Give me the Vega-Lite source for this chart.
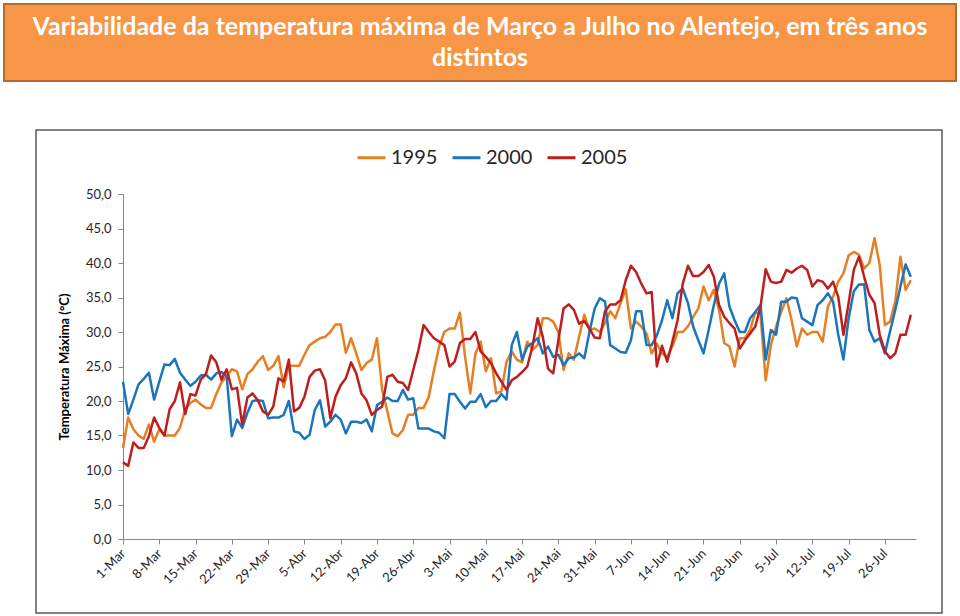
{
  "$schema": "https://vega.github.io/schema/vega-lite/v6.json",
  "padding": {"left": 3, "top": 3, "right": 0, "bottom": 0},
  "spacing": 47,
  "config": {
    "font": "Lato",
    "view": {"stroke": null},
    "concat": {"spacing": 0}
  },
  "vconcat": [
    {
      "width": 952,
      "height": 77,
      "view": {"fill": "#F79646", "stroke": "#B5692E", "strokeWidth": 2},
      "data": {"values": [{"title": "Variabilidade da temperatura máxima de Março a Julho no Alentejo, em três anos\ndistintos"}]},
      "mark": {"type": "text", "font": "Lato", "fontSize": 25, "fontWeight": "bold", "color": "white", "lineBreak": "\n", "lineHeight": 31, "align": "center", "baseline": "middle", "dy": -16},
      "encoding": {"text": {"field": "title", "type": "nominal"}}
    },
    {
      "spacing": 0,
      "hconcat": [
        {
          "width": 31,
          "height": 483,
          "data": {"values": []},
          "mark": "point",
          "view": {"stroke": null}
        },
        {
          "width": 906,
          "height": 483,
          "view": {"stroke": "#595959", "strokeWidth": 1.5, "fill": "white"},
          "data": {"values": [
{"date":"2000-03-01","1995":13.2,"2000":22.8,"2005":11.1},
{"date":"2000-03-02","1995":17.6,"2000":18.1,"2005":10.6},
{"date":"2000-03-03","1995":15.9,"2000":20.2,"2005":14.0},
{"date":"2000-03-04","1995":15.0,"2000":22.4,"2005":13.2},
{"date":"2000-03-05","1995":14.5,"2000":23.2,"2005":13.2},
{"date":"2000-03-06","1995":16.6,"2000":24.1,"2005":14.9},
{"date":"2000-03-07","1995":14.1,"2000":20.2,"2005":17.6},
{"date":"2000-03-08","1995":15.9,"2000":22.8,"2005":16.1},
{"date":"2000-03-09","1995":15.0,"2000":25.3,"2005":15.0},
{"date":"2000-03-10","1995":15.0,"2000":25.2,"2005":18.8},
{"date":"2000-03-11","1995":15.0,"2000":26.1,"2005":20.0},
{"date":"2000-03-12","1995":16.1,"2000":24.1,"2005":22.7},
{"date":"2000-03-13","1995":18.8,"2000":23.1,"2005":18.1},
{"date":"2000-03-14","1995":19.7,"2000":22.2,"2005":21.0},
{"date":"2000-03-15","1995":20.2,"2000":22.8,"2005":20.8},
{"date":"2000-03-16","1995":19.5,"2000":23.7,"2005":23.1},
{"date":"2000-03-17","1995":19.0,"2000":23.8,"2005":23.9},
{"date":"2000-03-18","1995":19.0,"2000":23.1,"2005":26.6},
{"date":"2000-03-19","1995":21.0,"2000":24.0,"2005":25.6},
{"date":"2000-03-20","1995":22.7,"2000":24.2,"2005":23.1},
{"date":"2000-03-21","1995":23.6,"2000":23.6,"2005":24.6},
{"date":"2000-03-22","1995":24.6,"2000":14.9,"2005":21.7},
{"date":"2000-03-23","1995":24.3,"2000":17.3,"2005":21.9},
{"date":"2000-03-24","1995":21.7,"2000":16.1,"2005":16.6},
{"date":"2000-03-25","1995":23.9,"2000":18.3,"2005":20.5},
{"date":"2000-03-26","1995":24.6,"2000":20.0,"2005":21.1},
{"date":"2000-03-27","1995":25.7,"2000":20.1,"2005":20.1},
{"date":"2000-03-28","1995":26.5,"2000":20.0,"2005":18.5},
{"date":"2000-03-29","1995":24.5,"2000":17.5,"2005":18.0},
{"date":"2000-03-30","1995":25.1,"2000":17.6,"2005":19.2},
{"date":"2000-03-31","1995":26.5,"2000":17.6,"2005":23.3},
{"date":"2000-04-01","1995":22.0,"2000":18.0,"2005":22.8},
{"date":"2000-04-02","1995":25.1,"2000":20.0,"2005":26.0},
{"date":"2000-04-03","1995":25.1,"2000":15.6,"2005":18.5},
{"date":"2000-04-04","1995":25.1,"2000":15.4,"2005":19.0},
{"date":"2000-04-05","1995":26.7,"2000":14.5,"2005":20.6},
{"date":"2000-04-06","1995":28.1,"2000":15.1,"2005":23.5},
{"date":"2000-04-07","1995":28.6,"2000":18.7,"2005":24.4},
{"date":"2000-04-08","1995":29.1,"2000":20.1,"2005":24.6},
{"date":"2000-04-09","1995":29.3,"2000":16.3,"2005":23.0},
{"date":"2000-04-10","1995":30.0,"2000":17.0,"2005":17.5},
{"date":"2000-04-11","1995":31.1,"2000":18.0,"2005":20.6},
{"date":"2000-04-12","1995":31.1,"2000":17.3,"2005":22.3},
{"date":"2000-04-13","1995":27.0,"2000":15.3,"2005":23.3},
{"date":"2000-04-14","1995":29.1,"2000":17.0,"2005":25.6},
{"date":"2000-04-15","1995":26.9,"2000":17.0,"2005":24.0},
{"date":"2000-04-16","1995":24.5,"2000":16.8,"2005":21.1},
{"date":"2000-04-17","1995":25.5,"2000":17.3,"2005":20.1},
{"date":"2000-04-18","1995":26.0,"2000":15.6,"2005":18.0},
{"date":"2000-04-19","1995":29.1,"2000":19.4,"2005":18.7},
{"date":"2000-04-20","1995":21.6,"2000":19.9,"2005":19.2},
{"date":"2000-04-21","1995":18.5,"2000":20.5,"2005":23.5},
{"date":"2000-04-22","1995":15.3,"2000":20.0,"2005":23.8},
{"date":"2000-04-23","1995":14.9,"2000":20.0,"2005":22.8},
{"date":"2000-04-24","1995":15.8,"2000":21.6,"2005":22.6},
{"date":"2000-04-25","1995":18.0,"2000":20.2,"2005":21.6},
{"date":"2000-04-26","1995":18.0,"2000":20.4,"2005":24.5},
{"date":"2000-04-27","1995":19.0,"2000":16.0,"2005":27.4},
{"date":"2000-04-28","1995":19.0,"2000":16.0,"2005":31.0},
{"date":"2000-04-29","1995":20.6,"2000":16.0,"2005":30.0},
{"date":"2000-04-30","1995":24.5,"2000":15.6,"2005":29.1},
{"date":"2000-05-01","1995":27.9,"2000":15.4,"2005":28.6},
{"date":"2000-05-02","1995":30.0,"2000":14.6,"2005":28.1},
{"date":"2000-05-03","1995":30.5,"2000":21.0,"2005":25.0},
{"date":"2000-05-04","1995":30.5,"2000":21.0,"2005":25.7},
{"date":"2000-05-05","1995":32.8,"2000":19.9,"2005":28.4},
{"date":"2000-05-06","1995":26.4,"2000":18.9,"2005":29.0},
{"date":"2000-05-07","1995":21.1,"2000":19.9,"2005":29.0},
{"date":"2000-05-08","1995":26.9,"2000":19.9,"2005":30.0},
{"date":"2000-05-09","1995":28.6,"2000":21.0,"2005":27.2},
{"date":"2000-05-10","1995":24.3,"2000":19.1,"2005":26.4},
{"date":"2000-05-11","1995":26.2,"2000":20.0,"2005":25.5},
{"date":"2000-05-12","1995":21.1,"2000":20.0,"2005":24.0},
{"date":"2000-05-13","1995":21.4,"2000":21.0,"2005":22.8},
{"date":"2000-05-14","1995":25.7,"2000":20.2,"2005":21.6},
{"date":"2000-05-15","1995":27.2,"2000":28.1,"2005":23.0},
{"date":"2000-05-16","1995":26.0,"2000":30.0,"2005":23.5},
{"date":"2000-05-17","1995":25.6,"2000":26.0,"2005":24.2},
{"date":"2000-05-18","1995":28.6,"2000":27.9,"2005":25.0},
{"date":"2000-05-19","1995":27.4,"2000":28.4,"2005":27.9},
{"date":"2000-05-20","1995":28.1,"2000":29.1,"2005":32.0},
{"date":"2000-05-21","1995":32.0,"2000":26.9,"2005":29.3},
{"date":"2000-05-22","1995":32.0,"2000":27.9,"2005":24.7},
{"date":"2000-05-23","1995":31.5,"2000":26.4,"2005":24.0},
{"date":"2000-05-24","1995":30.0,"2000":26.7,"2005":28.8},
{"date":"2000-05-25","1995":24.5,"2000":25.2,"2005":33.4},
{"date":"2000-05-26","1995":26.9,"2000":26.2,"2005":34.0},
{"date":"2000-05-27","1995":26.0,"2000":26.3,"2005":33.2},
{"date":"2000-05-28","1995":29.3,"2000":26.9,"2005":31.2},
{"date":"2000-05-29","1995":32.5,"2000":26.2,"2005":31.6},
{"date":"2000-05-30","1995":30.3,"2000":30.0,"2005":30.5},
{"date":"2000-05-31","1995":30.5,"2000":33.4,"2005":29.2},
{"date":"2000-06-01","1995":30.0,"2000":34.9,"2005":29.1},
{"date":"2000-06-02","1995":31.3,"2000":34.4,"2005":33.0},
{"date":"2000-06-03","1995":33.0,"2000":28.1,"2005":34.0},
{"date":"2000-06-04","1995":32.0,"2000":27.6,"2005":34.0},
{"date":"2000-06-05","1995":34.2,"2000":27.1,"2005":34.6},
{"date":"2000-06-06","1995":36.2,"2000":27.0,"2005":37.5},
{"date":"2000-06-07","1995":30.5,"2000":28.8,"2005":39.6},
{"date":"2000-06-08","1995":31.5,"2000":33.0,"2005":38.7},
{"date":"2000-06-09","1995":30.8,"2000":33.0,"2005":37.0},
{"date":"2000-06-10","1995":29.8,"2000":28.1,"2005":35.6},
{"date":"2000-06-11","1995":26.9,"2000":28.1,"2005":35.8},
{"date":"2000-06-12","1995":28.3,"2000":29.5,"2005":25.0},
{"date":"2000-06-13","1995":26.9,"2000":31.7,"2005":28.0},
{"date":"2000-06-14","1995":26.4,"2000":34.6,"2005":25.7},
{"date":"2000-06-15","1995":27.9,"2000":32.0,"2005":28.6},
{"date":"2000-06-16","1995":30.0,"2000":35.6,"2005":31.7},
{"date":"2000-06-17","1995":30.0,"2000":36.3,"2005":37.0},
{"date":"2000-06-18","1995":30.8,"2000":34.2,"2005":39.6},
{"date":"2000-06-19","1995":32.2,"2000":30.8,"2005":38.1},
{"date":"2000-06-20","1995":33.4,"2000":28.8,"2005":38.1},
{"date":"2000-06-21","1995":36.6,"2000":26.9,"2005":38.7},
{"date":"2000-06-22","1995":34.6,"2000":30.3,"2005":39.7},
{"date":"2000-06-23","1995":36.1,"2000":33.9,"2005":38.0},
{"date":"2000-06-24","1995":33.2,"2000":37.0,"2005":33.9},
{"date":"2000-06-25","1995":28.4,"2000":38.5,"2005":32.2},
{"date":"2000-06-26","1995":27.9,"2000":33.7,"2005":31.3},
{"date":"2000-06-27","1995":25.0,"2000":31.7,"2005":30.5},
{"date":"2000-06-28","1995":29.1,"2000":30.0,"2005":27.6},
{"date":"2000-06-29","1995":29.1,"2000":30.0,"2005":28.8},
{"date":"2000-06-30","1995":30.3,"2000":32.0,"2005":29.8},
{"date":"2000-07-01","1995":32.9,"2000":32.9,"2005":30.8},
{"date":"2000-07-02","1995":32.5,"2000":33.9,"2005":33.7},
{"date":"2000-07-03","1995":23.0,"2000":26.0,"2005":39.1},
{"date":"2000-07-04","1995":28.1,"2000":30.3,"2005":37.3},
{"date":"2000-07-05","1995":30.8,"2000":29.6,"2005":37.1},
{"date":"2000-07-06","1995":32.9,"2000":34.4,"2005":37.3},
{"date":"2000-07-07","1995":34.9,"2000":34.4,"2005":39.0},
{"date":"2000-07-08","1995":31.7,"2000":35.0,"2005":38.6},
{"date":"2000-07-09","1995":27.9,"2000":34.9,"2005":39.2},
{"date":"2000-07-10","1995":30.5,"2000":32.0,"2005":39.6},
{"date":"2000-07-11","1995":29.6,"2000":31.5,"2005":39.0},
{"date":"2000-07-12","1995":30.0,"2000":31.0,"2005":36.6},
{"date":"2000-07-13","1995":30.0,"2000":33.9,"2005":37.5},
{"date":"2000-07-14","1995":28.6,"2000":34.6,"2005":37.3},
{"date":"2000-07-15","1995":33.7,"2000":35.6,"2005":36.3},
{"date":"2000-07-16","1995":35.1,"2000":34.4,"2005":37.3},
{"date":"2000-07-17","1995":37.3,"2000":29.6,"2005":35.1},
{"date":"2000-07-18","1995":38.5,"2000":26.0,"2005":29.6},
{"date":"2000-07-19","1995":41.1,"2000":32.0,"2005":34.2},
{"date":"2000-07-20","1995":41.6,"2000":35.9,"2005":39.0},
{"date":"2000-07-21","1995":41.2,"2000":36.9,"2005":40.9},
{"date":"2000-07-22","1995":39.2,"2000":36.9,"2005":38.0},
{"date":"2000-07-23","1995":40.0,"2000":30.3,"2005":35.4},
{"date":"2000-07-24","1995":43.6,"2000":28.6,"2005":34.2},
{"date":"2000-07-25","1995":39.7,"2000":29.1,"2005":29.6},
{"date":"2000-07-26","1995":31.0,"2000":26.9,"2005":27.2},
{"date":"2000-07-27","1995":31.5,"2000":30.1,"2005":26.2},
{"date":"2000-07-28","1995":34.4,"2000":33.2,"2005":26.9},
{"date":"2000-07-29","1995":40.9,"2000":36.6,"2005":29.6},
{"date":"2000-07-30","1995":36.1,"2000":39.8,"2005":29.6},
{"date":"2000-07-31","1995":37.5,"2000":38.0,"2005":32.5}
          ]},
          "transform": [{"fold": ["1995", "2000", "2005"], "as": ["ano", "temp"]}],
          "mark": {"type": "line", "strokeWidth": 2.5, "strokeJoin": "round"},
          "encoding": {
            "x": {
              "field": "date",
              "type": "temporal",
              "scale": {
                "type": "utc",
                "domain": [
                  {"year": 2000, "month": 3, "date": 1, "utc": true},
                  {"year": 2000, "month": 8, "date": 1, "utc": true}
                ],
                "range": [87, 880]
              },
              "axis": {
                "title": null,
                "grid": false,
                "offset": -74,
                "values": [
                  {"year": 2000, "month": 3, "date": 1, "utc": true},
                  {"year": 2000, "month": 3, "date": 8, "utc": true},
                  {"year": 2000, "month": 3, "date": 15, "utc": true},
                  {"year": 2000, "month": 3, "date": 22, "utc": true},
                  {"year": 2000, "month": 3, "date": 29, "utc": true},
                  {"year": 2000, "month": 4, "date": 5, "utc": true},
                  {"year": 2000, "month": 4, "date": 12, "utc": true},
                  {"year": 2000, "month": 4, "date": 19, "utc": true},
                  {"year": 2000, "month": 4, "date": 26, "utc": true},
                  {"year": 2000, "month": 5, "date": 3, "utc": true},
                  {"year": 2000, "month": 5, "date": 10, "utc": true},
                  {"year": 2000, "month": 5, "date": 17, "utc": true},
                  {"year": 2000, "month": 5, "date": 24, "utc": true},
                  {"year": 2000, "month": 5, "date": 31, "utc": true},
                  {"year": 2000, "month": 6, "date": 7, "utc": true},
                  {"year": 2000, "month": 6, "date": 14, "utc": true},
                  {"year": 2000, "month": 6, "date": 21, "utc": true},
                  {"year": 2000, "month": 6, "date": 28, "utc": true},
                  {"year": 2000, "month": 7, "date": 5, "utc": true},
                  {"year": 2000, "month": 7, "date": 12, "utc": true},
                  {"year": 2000, "month": 7, "date": 19, "utc": true},
                  {"year": 2000, "month": 7, "date": 26, "utc": true}
                ],
                "labelExpr": "utcdate(datum.value) + '-' + ['Jan','Fev','Mar','Abr','Mai','Jun','Jul','Ago','Set','Out','Nov','Dez'][utcmonth(datum.value)]",
                "labelAngle": -45,
                "labelAlign": "right",
                "labelBaseline": "middle",
                "labelPadding": 7,
                "labelFont": "Lato",
                "labelFontSize": 13,
                "labelColor": "#262626",
                "labelOverlap": false,
                "labelFlush": false,
                "domainColor": "#868686",
                "domainWidth": 1,
                "tickColor": "#868686",
                "tickSize": 5
              }
            },
            "y": {
              "field": "temp",
              "type": "quantitative",
              "scale": {"domain": [0, 50], "range": [409, 64], "nice": false, "zero": true},
              "axis": {
                "title": "Temperatura Máxima (°C)",
                "titleFont": "Lato",
                "titleFontSize": 13,
                "titleFontWeight": "bold",
                "titleColor": "#000000",
                "titlePadding": 14,
                "grid": false,
                "offset": -87,
                "values": [0, 5, 10, 15, 20, 25, 30, 35, 40, 45, 50],
                "labelExpr": "replace(format(datum.value, '.1f'), '.', ',')",
                "labelFont": "Lato",
                "labelFontSize": 13,
                "labelColor": "#262626",
                "labelPadding": 7,
                "labelFlush": false,
                "domainColor": "#868686",
                "tickColor": "#868686",
                "tickSize": 5
              }
            },
            "color": {
              "field": "ano",
              "type": "nominal",
              "scale": {"domain": ["1995", "2000", "2005"], "range": ["#E67E22", "#1B75BC", "#BE1E1E"]},
              "legend": {
                "title": null,
                "orient": "none",
                "legendX": 352,
                "legendY": 138,
                "direction": "horizontal",
                "symbolType": "stroke",
                "symbolSize": 784,
                "symbolStrokeWidth": 3,
                "labelFont": "Lato",
                "labelFontSize": 20,
                "labelColor": "#262626",
                "labelOffset": 4,
                "columnPadding": 8,
                "padding": 0
              }
            }
          }
        }
      ]
    }
  ]
}
